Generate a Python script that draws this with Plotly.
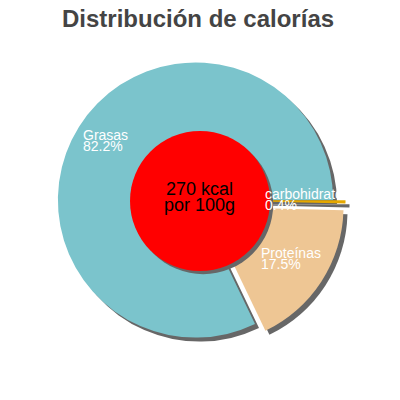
import plotly.graph_objects as go

labels = ["carbohidratos", "Grasas", "Proteínas"]
values = [0.4, 82.2, 17.5]
colors = ["#e5a800", "#7bc4cc", "#eec694"]
pulls = [0.09, 0.0, 0.09]
title = "Distribución de calorías"
center_lines = ["270 kcal", "por 100g"]

# the page puts the plot 8px in from the top-left corner, so work in window pixels
OFF = 8


def px(x, y):
    return (x - OFF) / 400, 1 - (y - OFF) / 400


# left edge and first baseline of each label, in window pixels
label_pos = {"carbohidratos": (266, 198.5), "Grasas": (84, 139.5), "Proteínas": (262, 257.5)}
line_gap = 11.5

pcx, pcy = px(195.5, 200)
half = 0.375
dom_x = [pcx - half, pcx + half]
dom_y = [pcy - half, pcy + half]
sh = 0.01  # shadow offset

fig = go.Figure()

# shadow pie
fig.add_trace(go.Pie(
    labels=labels, values=values, sort=False, direction="counterclockwise", rotation=90,
    pull=pulls, marker=dict(colors=["#676767"] * len(values), line=dict(width=0)),
    textinfo="none", hoverinfo="skip", showlegend=False,
    domain=dict(x=[dom_x[0] + sh, dom_x[1] + sh], y=[dom_y[0] - sh, dom_y[1] - sh]),
))
# main pie
fig.add_trace(go.Pie(
    labels=labels, values=values, sort=False, direction="counterclockwise", rotation=90,
    pull=pulls, marker=dict(colors=colors, line=dict(width=0)),
    textinfo="none", showlegend=False,
    domain=dict(x=dom_x, y=dom_y),
))

# red centre disc with shadow
cx, cy = px(200, 201)
r = 0.175
fig.add_shape(type="circle", xref="paper", yref="paper",
              x0=cx - r + 0.008, x1=cx + r + 0.008, y0=cy - r - 0.008, y1=cy + r - 0.008,
              fillcolor="#676767", line=dict(width=0))
fig.add_shape(type="circle", xref="paper", yref="paper",
              x0=cx - r, x1=cx + r, y0=cy - r, y1=cy + r,
              fillcolor="#ff0000", line=dict(width=0))

for i, line in enumerate(center_lines):
    x, y = px(199.5, 196 + 15.7 * i + 4.8)
    fig.add_annotation(x=x, y=y, xref="paper", yref="paper", xanchor="center", yanchor="bottom",
                       showarrow=False, text=line, font=dict(size=18, color="black"))

for lab, val in zip(labels, values):
    lx, ly = label_pos[lab]
    for i, line in enumerate([lab, f"{val:.1f}%"]):
        x, y = px(lx - 2, ly + line_gap * i + 4)
        fig.add_annotation(x=x, y=y, xref="paper", yref="paper", xanchor="left", yanchor="bottom",
                           showarrow=False, borderpad=0, text=line,
                           font=dict(size=14, color="white"))

# title
tx, ty = px(198, 33)
fig.add_annotation(x=tx, y=ty, xref="paper", yref="paper", xanchor="center", yanchor="bottom",
                   showarrow=False, borderpad=0, text=f"<b>{title}</b>",
                   font=dict(size=24, color="#444444"))

fig.update_layout(
    width=400, height=400, margin=dict(l=0, r=0, t=0, b=0),
    paper_bgcolor="white", plot_bgcolor="white",
    font=dict(family="Liberation Sans, Arial, sans-serif"),
)

fig.write_html("out.html")
